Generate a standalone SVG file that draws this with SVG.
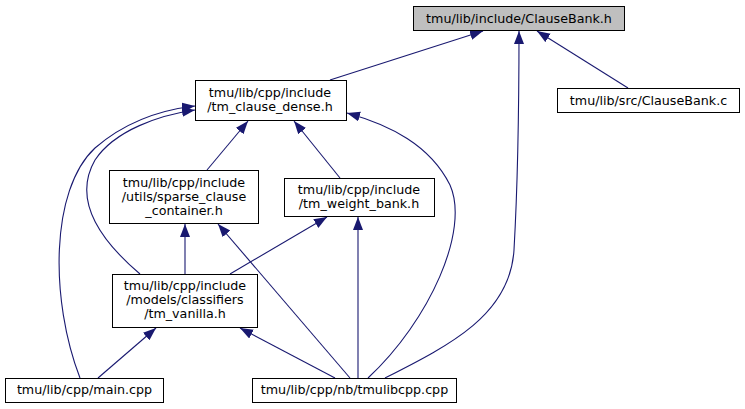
<svg xmlns="http://www.w3.org/2000/svg" width="745" height="409" viewBox="0 0 745 409">
<style>
.node rect{fill:#ffffff;stroke:#000000;stroke-width:1}
.node.hl rect{fill:#bfbfbf}
.node text{font-family:"DejaVu Sans",sans-serif;font-size:12.7px;fill:#000000;text-anchor:middle}
.edges path{fill:none;stroke:#191970;stroke-width:1.1;marker-end:url(#ah)}
</style>
<defs>
<marker id="ah" markerUnits="userSpaceOnUse" markerWidth="14" markerHeight="11" refX="13" refY="5" orient="auto">
<path d="M0,0 L13,5 L0,10 z" fill="#191970"/>
</marker>
</defs>
<rect width="745" height="409" fill="#ffffff"/>
<g class="edges">
<path d="M330,80 L483,31"/>
<path d="M628,88 L537,31"/>
<path d="M385,378 C450,345 510,315 514,250 C518,180 519,90 519,31"/>
<path d="M207,170 L248,121"/>
<path d="M340,178 L294,121"/>
<path d="M140,274 C100,240 72,200 95,160 C115,130 160,115 195,110"/>
<path d="M80,378 C50,300 50,190 95,148 C125,122 160,110 195,106"/>
<path d="M368,378 C430,320 470,230 450,185 C430,145 390,125 347,113"/>
<path d="M185,274 L185,224"/>
<path d="M350,378 L218,224"/>
<path d="M230,274 L327,217"/>
<path d="M358,378 L358,217"/>
<path d="M98,378 L156,328"/>
<path d="M335,378 L240,328"/>
</g>
<g id="node1" class="node hl"><rect x="413.5" y="6.5" width="211" height="24"/><text x="519" y="22.5">tmu/lib/include/ClauseBank.h</text></g>
<g id="node2" class="node"><rect x="195.5" y="80.5" width="151" height="40"/><text x="270" y="97">tmu/lib/cpp/include</text><text x="270" y="111">/tm_clause_dense.h</text></g>
<g id="node3" class="node"><rect x="109.5" y="170.5" width="149" height="53"/><text x="184" y="187">tmu/lib/cpp/include</text><text x="184" y="201">/utils/sparse_clause</text><text x="184" y="215">_container.h</text></g>
<g id="node4" class="node"><rect x="284.5" y="178.5" width="150" height="38"/><text x="359" y="193.5">tmu/lib/cpp/include</text><text x="359" y="207.5">/tm_weight_bank.h</text></g>
<g id="node5" class="node"><rect x="112.5" y="274.5" width="145" height="53"/><text x="185" y="290">tmu/lib/cpp/include</text><text x="185" y="304">/models/classifiers</text><text x="185" y="318">/tm_vanilla.h</text></g>
<g id="node6" class="node"><rect x="5.5" y="378.5" width="158" height="24"/><text x="84.5" y="394">tmu/lib/cpp/main.cpp</text></g>
<g id="node7" class="node"><rect x="252.5" y="378.5" width="204" height="24"/><text x="354.5" y="394">tmu/lib/cpp/nb/tmulibcpp.cpp</text></g>
<g id="node8" class="node"><rect x="557.5" y="88.5" width="182" height="24"/><text x="648.5" y="104.5">tmu/lib/src/ClauseBank.c</text></g>
</svg>
